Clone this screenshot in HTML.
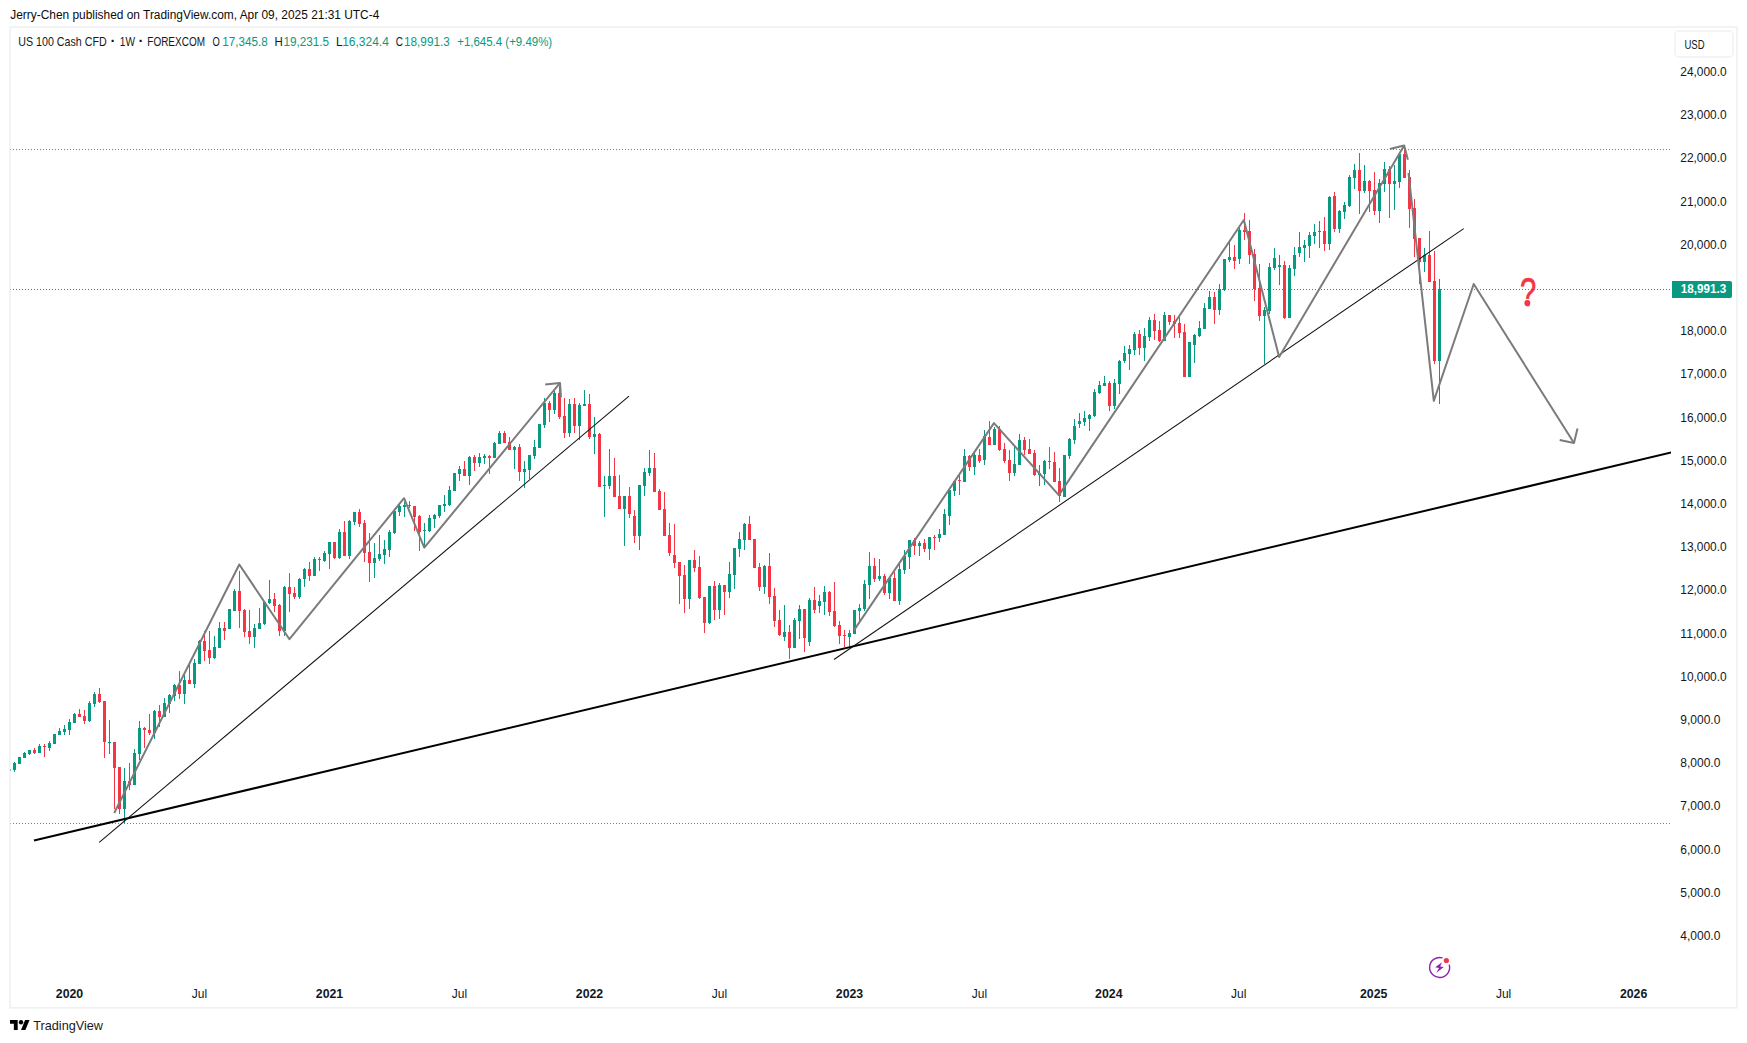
<!DOCTYPE html>
<html lang="en"><head><meta charset="utf-8"><title>US 100 Cash CFD 1W - TradingView</title>
<style>
html,body{margin:0;padding:0;background:#fff;}
body{width:1747px;height:1043px;overflow:hidden;font-family:"Liberation Sans", sans-serif;}
svg{display:block;}
text{font-family:"Liberation Sans", sans-serif;}
</style></head><body>
<svg width="1747" height="1043" viewBox="0 0 1747 1043">
<rect width="1747" height="1043" fill="#fff"/>
<defs><clipPath id="pane"><rect x="10.5" y="27" width="1660.5" height="952"/></clipPath></defs>

<rect x="10" y="27" width="1727" height="980.8" fill="none" stroke="#f1f1f2" stroke-width="1.6"/>
<text x="10.3" y="18.6" font-size="12" fill="#0c0c0c" textLength="369" lengthAdjust="spacingAndGlyphs">Jerry-Chen published on TradingView.com, Apr 09, 2025 21:31 UTC-4</text>
<text x="18.3" y="46.0" font-size="12.1" fill="#131722" textLength="88.4" lengthAdjust="spacingAndGlyphs">US 100 Cash CFD</text>
<text x="112.9" y="45.8" font-size="15" fill="#131722" font-weight="bold" text-anchor="middle">·</text>
<text x="119.8" y="46.0" font-size="12.1" fill="#131722" textLength="15.2" lengthAdjust="spacingAndGlyphs">1W</text>
<text x="140.9" y="45.8" font-size="15" fill="#131722" font-weight="bold" text-anchor="middle">·</text>
<text x="147.3" y="46.0" font-size="12.1" fill="#131722" textLength="57.7" lengthAdjust="spacingAndGlyphs">FOREXCOM</text>
<text x="212.6" y="46.0" font-size="12.1" fill="#131722" textLength="7.3" lengthAdjust="spacingAndGlyphs">O</text>
<text x="222.3" y="46.0" font-size="12.1" fill="#089981" textLength="45.4" lengthAdjust="spacingAndGlyphs">17,345.8</text>
<text x="274.6" y="46.0" font-size="12.1" fill="#131722" textLength="8.3" lengthAdjust="spacingAndGlyphs">H</text>
<text x="283.5" y="46.0" font-size="12.1" fill="#089981" textLength="45.5" lengthAdjust="spacingAndGlyphs">19,231.5</text>
<text x="336" y="46.0" font-size="12.1" fill="#131722" textLength="6.6" lengthAdjust="spacingAndGlyphs">L</text>
<text x="342.2" y="46.0" font-size="12.1" fill="#089981" textLength="46.6" lengthAdjust="spacingAndGlyphs">16,324.4</text>
<text x="395.8" y="46.0" font-size="12.1" fill="#131722" textLength="7.2" lengthAdjust="spacingAndGlyphs">C</text>
<text x="404" y="46.0" font-size="12.1" fill="#089981" textLength="45.8" lengthAdjust="spacingAndGlyphs">18,991.3</text>
<text x="457.2" y="46.0" font-size="12.1" fill="#089981" textLength="95" lengthAdjust="spacingAndGlyphs">+1,645.4 (+9.49%)</text>
<g clip-path="url(#pane)">
<line x1="10" y1="149.5" x2="1671" y2="149.5" stroke="#7d7d7d" stroke-width="1" stroke-dasharray="1 2"/>
<line x1="10" y1="823.5" x2="1671" y2="823.5" stroke="#7d7d7d" stroke-width="1" stroke-dasharray="1 2"/>
<line x1="10" y1="289.5" x2="1671" y2="289.5" stroke="#089981" stroke-width="1" stroke-dasharray="1 2"/>
<path d="M14 762h1v10h-1zM13 763h3v7h-3zM19 757h1v7h-1zM18 757h3v7h-3zM24 752h1v6h-1zM23 753h3v5h-3zM29 750h1v5h-1zM28 750h3v4h-3zM39 744h1v9h-1zM38 746h3v7h-3zM49 741h1v10h-1zM48 743h3v5h-3zM54 734h1v10h-1zM53 734h3v10h-3zM59 728h1v7h-1zM58 731h3v4h-3zM64 725h1v10h-1zM63 729h3v3h-3zM69 719h1v16h-1zM68 722h3v8h-3zM74 713h1v10h-1zM73 714h3v9h-3zM89 701h1v21h-1zM88 703h3v18h-3zM94 692h1v15h-1zM93 694h3v10h-3zM109 720h1v34h-1zM108 742h3v1h-3zM124 768h1v55h-1zM123 781h3v28h-3zM134 749h1v36h-1zM133 753h3v32h-3zM139 721h1v39h-1zM138 728h3v26h-3zM154 710h1v29h-1zM153 711h3v22h-3zM164 698h1v19h-1zM163 703h3v14h-3zM169 694h1v19h-1zM168 695h3v9h-3zM174 684h1v17h-1zM173 685h3v11h-3zM184 675h1v29h-1zM183 680h3v14h-3zM194 659h1v29h-1zM193 663h3v21h-3zM199 640h1v24h-1zM198 641h3v23h-3zM214 636h1v23h-1zM213 647h3v11h-3zM219 622h1v26h-1zM218 628h3v20h-3zM229 609h1v20h-1zM228 609h3v20h-3zM234 589h1v22h-1zM233 591h3v20h-3zM254 624h1v24h-1zM253 628h3v9h-3zM259 608h1v21h-1zM258 623h3v6h-3zM264 602h1v23h-1zM263 602h3v22h-3zM269 580h1v24h-1zM268 599h3v4h-3zM284 586h1v50h-1zM283 587h3v44h-3zM299 578h1v21h-1zM298 579h3v18h-3zM304 568h1v19h-1zM303 569h3v10h-3zM314 557h1v19h-1zM313 559h3v17h-3zM324 551h1v11h-1zM323 553h3v8h-3zM329 542h1v27h-1zM328 542h3v12h-3zM339 529h1v30h-1zM338 532h3v26h-3zM349 520h1v39h-1zM348 521h3v35h-3zM354 512h1v13h-1zM353 512h3v10h-3zM374 543h1v35h-1zM373 558h3v5h-3zM379 535h1v26h-1zM378 554h3v5h-3zM384 540h1v24h-1zM383 549h3v6h-3zM389 530h1v27h-1zM388 532h3v18h-3zM394 511h1v23h-1zM393 511h3v22h-3zM399 505h1v11h-1zM398 506h3v6h-3zM404 502h1v15h-1zM403 505h3v2h-3zM424 523h1v25h-1zM423 530h3v1h-3zM429 515h1v17h-1zM428 518h3v13h-3zM434 514h1v14h-1zM433 515h3v4h-3zM439 505h1v13h-1zM438 505h3v11h-3zM444 495h1v17h-1zM443 504h3v2h-3zM449 486h1v20h-1zM448 490h3v15h-3zM454 473h1v18h-1zM453 473h3v18h-3zM459 466h1v15h-1zM458 469h3v5h-3zM469 456h1v29h-1zM468 457h3v19h-3zM479 453h1v14h-1zM478 457h3v6h-3zM484 454h1v10h-1zM483 456h3v2h-3zM494 442h1v16h-1zM493 443h3v15h-3zM499 431h1v13h-1zM498 433h3v11h-3zM514 446h1v23h-1zM513 447h3v3h-3zM524 461h1v27h-1zM523 469h3v3h-3zM529 455h1v24h-1zM528 455h3v15h-3zM534 440h1v19h-1zM533 447h3v9h-3zM539 424h1v24h-1zM538 424h3v24h-3zM544 398h1v30h-1zM543 403h3v22h-3zM554 391h1v23h-1zM553 393h3v17h-3zM569 399h1v38h-1zM568 404h3v29h-3zM579 403h1v37h-1zM578 405h3v21h-3zM584 390h1v16h-1zM583 404h3v2h-3zM594 417h1v37h-1zM593 434h3v3h-3zM604 476h1v41h-1zM603 485h3v1h-3zM609 449h1v40h-1zM608 476h3v10h-3zM624 496h1v50h-1zM623 496h3v13h-3zM639 485h1v65h-1zM638 485h3v51h-3zM644 468h1v28h-1zM643 472h3v14h-3zM649 450h1v26h-1zM648 468h3v5h-3zM689 560h1v49h-1zM688 560h3v39h-3zM709 586h1v38h-1zM708 586h3v37h-3zM719 583h1v36h-1zM718 585h3v25h-3zM729 562h1v36h-1zM728 574h3v18h-3zM734 548h1v41h-1zM733 548h3v27h-3zM739 532h1v25h-1zM738 539h3v10h-3zM744 523h1v27h-1zM743 524h3v16h-3zM764 565h1v29h-1zM763 566h3v21h-3zM784 605h1v36h-1zM783 632h3v5h-3zM794 618h1v30h-1zM793 620h3v28h-3zM799 605h1v34h-1zM798 609h3v12h-3zM809 598h1v48h-1zM808 600h3v42h-3zM819 595h1v18h-1zM818 601h3v5h-3zM824 586h1v29h-1zM823 592h3v10h-3zM849 630h1v16h-1zM848 633h3v4h-3zM854 610h1v24h-1zM853 610h3v24h-3zM859 604h1v17h-1zM858 608h3v3h-3zM864 580h1v31h-1zM863 584h3v25h-3zM869 552h1v47h-1zM868 566h3v19h-3zM879 559h1v22h-1zM878 576h3v3h-3zM889 578h1v21h-1zM888 578h3v15h-3zM899 564h1v41h-1zM898 569h3v32h-3zM904 550h1v24h-1zM903 556h3v14h-3zM909 540h1v29h-1zM908 540h3v17h-3zM919 541h1v15h-1zM918 543h3v3h-3zM929 537h1v23h-1zM928 537h3v12h-3zM939 529h1v13h-1zM938 534h3v4h-3zM944 509h1v26h-1zM943 514h3v21h-3zM949 490h1v35h-1zM948 490h3v26h-3zM954 480h1v16h-1zM953 481h3v10h-3zM964 449h1v33h-1zM963 456h3v26h-3zM974 453h1v22h-1zM973 455h3v12h-3zM984 430h1v35h-1zM983 436h3v24h-3zM994 427h1v18h-1zM993 429h3v16h-3zM1014 447h1v29h-1zM1013 464h3v9h-3zM1019 434h1v31h-1zM1018 440h3v25h-3zM1039 465h1v21h-1zM1038 473h3v2h-3zM1044 460h1v25h-1zM1043 461h3v13h-3zM1064 455h1v42h-1zM1063 455h3v42h-3zM1069 438h1v21h-1zM1068 439h3v17h-3zM1074 419h1v25h-1zM1073 426h3v14h-3zM1079 413h1v15h-1zM1078 421h3v3h-3zM1084 411h1v15h-1zM1083 418h3v4h-3zM1089 414h1v17h-1zM1088 415h3v4h-3zM1094 389h1v28h-1zM1093 392h3v24h-3zM1099 381h1v13h-1zM1098 385h3v8h-3zM1104 376h1v10h-1zM1103 383h3v3h-3zM1114 379h1v30h-1zM1113 383h3v23h-3zM1119 360h1v34h-1zM1118 361h3v23h-3zM1124 346h1v17h-1zM1123 353h3v8h-3zM1129 345h1v25h-1zM1128 349h3v5h-3zM1134 332h1v23h-1zM1133 334h3v16h-3zM1144 328h1v33h-1zM1143 336h3v12h-3zM1149 317h1v24h-1zM1148 320h3v17h-3zM1164 312h1v29h-1zM1163 315h3v26h-3zM1189 342h1v35h-1zM1188 342h3v35h-3zM1194 334h1v29h-1zM1193 335h3v10h-3zM1199 321h1v16h-1zM1198 328h3v8h-3zM1204 303h1v26h-1zM1203 308h3v21h-3zM1209 291h1v18h-1zM1208 297h3v12h-3zM1219 284h1v31h-1zM1218 289h3v21h-3zM1224 259h1v32h-1zM1223 259h3v31h-3zM1229 242h1v20h-1zM1228 257h3v3h-3zM1239 228h1v36h-1zM1238 230h3v29h-3zM1264 307h1v57h-1zM1263 310h3v6h-3zM1269 263h1v51h-1zM1268 267h3v44h-3zM1274 248h1v22h-1zM1273 258h3v10h-3zM1279 255h1v30h-1zM1278 265h3v2h-3zM1289 265h1v53h-1zM1288 268h3v50h-3zM1294 247h1v29h-1zM1293 255h3v14h-3zM1299 232h1v25h-1zM1298 247h3v6h-3zM1304 240h1v22h-1zM1303 245h3v3h-3zM1309 232h1v26h-1zM1308 235h3v11h-3zM1314 224h1v20h-1zM1313 232h3v4h-3zM1319 221h1v27h-1zM1318 231h3v1h-3zM1329 196h1v54h-1zM1328 197h3v47h-3zM1339 210h1v23h-1zM1338 211h3v18h-3zM1344 202h1v17h-1zM1343 205h3v7h-3zM1349 175h1v32h-1zM1348 177h3v29h-3zM1354 164h1v25h-1zM1353 170h3v8h-3zM1364 165h1v28h-1zM1363 181h3v10h-3zM1379 179h1v44h-1zM1378 183h3v28h-3zM1384 162h1v30h-1zM1383 169h3v15h-3zM1394 165h1v45h-1zM1393 181h3v3h-3zM1399 153h1v35h-1zM1398 154h3v28h-3zM1424 248h1v24h-1zM1423 255h3v7h-3zM1439 279h1v125h-1zM1438 289h3v72h-3zM8 769h3v2h-3z" fill="#089981"/>
<path d="M34 748h1v6h-1zM33 750h3v3h-3zM44 744h1v13h-1zM43 746h3v1h-3zM79 709h1v8h-1zM78 714h3v3h-3zM84 710h1v14h-1zM83 716h3v5h-3zM99 688h1v15h-1zM98 694h3v8h-3zM104 701h1v57h-1zM103 701h3v41h-3zM114 742h1v67h-1zM113 742h3v26h-3zM119 767h1v47h-1zM118 767h3v42h-3zM129 763h1v27h-1zM128 781h3v4h-3zM144 727h1v21h-1zM143 728h3v2h-3zM149 714h1v21h-1zM148 730h3v3h-3zM159 705h1v22h-1zM158 711h3v6h-3zM179 671h1v28h-1zM178 685h3v9h-3zM189 665h1v19h-1zM188 680h3v4h-3zM204 631h1v30h-1zM203 641h3v10h-3zM209 631h1v33h-1zM208 650h3v8h-3zM224 622h1v18h-1zM223 628h3v3h-3zM239 571h1v57h-1zM238 591h3v20h-3zM244 609h1v28h-1zM243 610h3v22h-3zM249 610h1v34h-1zM248 631h3v6h-3zM274 593h1v19h-1zM273 599h3v7h-3zM279 604h1v32h-1zM278 605h3v26h-3zM289 573h1v39h-1zM288 587h3v7h-3zM294 587h1v12h-1zM293 593h3v4h-3zM309 562h1v19h-1zM308 569h3v7h-3zM319 557h1v14h-1zM318 559h3v1h-3zM334 542h1v17h-1zM333 542h3v16h-3zM344 521h1v35h-1zM343 532h3v24h-3zM359 509h1v18h-1zM358 512h3v12h-3zM364 520h1v42h-1zM363 523h3v30h-3zM369 533h1v49h-1zM368 552h3v11h-3zM409 501h1v7h-1zM408 505h3v1h-3zM414 506h1v25h-1zM413 506h3v11h-3zM419 515h1v36h-1zM418 516h3v16h-3zM464 461h1v15h-1zM463 469h3v7h-3zM474 455h1v16h-1zM473 457h3v6h-3zM489 455h1v19h-1zM488 456h3v2h-3zM504 431h1v12h-1zM503 433h3v10h-3zM509 437h1v13h-1zM508 442h3v8h-3zM519 444h1v37h-1zM518 447h3v25h-3zM549 401h1v21h-1zM548 403h3v7h-3zM559 386h1v33h-1zM558 393h3v24h-3zM564 398h1v40h-1zM563 416h3v17h-3zM574 398h1v35h-1zM573 404h3v22h-3zM589 394h1v45h-1zM588 404h3v33h-3zM599 433h1v54h-1zM598 434h3v53h-3zM614 458h1v39h-1zM613 476h3v21h-3zM619 475h1v34h-1zM618 496h3v13h-3zM629 487h1v31h-1zM628 496h3v18h-3zM634 510h1v33h-1zM633 516h3v20h-3zM654 453h1v39h-1zM653 468h3v24h-3zM659 489h1v21h-1zM658 491h3v19h-3zM664 492h1v44h-1zM663 509h3v27h-3zM669 523h1v33h-1zM668 535h3v18h-3zM674 524h1v44h-1zM673 555h3v8h-3zM679 562h1v42h-1zM678 562h3v14h-3zM684 565h1v48h-1zM683 575h3v24h-3zM694 550h1v22h-1zM693 560h3v8h-3zM699 556h1v43h-1zM698 567h3v31h-3zM704 597h1v36h-1zM703 597h3v26h-3zM714 581h1v39h-1zM713 586h3v24h-3zM724 585h1v30h-1zM723 585h3v7h-3zM749 516h1v24h-1zM748 524h3v16h-3zM754 539h1v29h-1zM753 539h3v29h-3zM759 563h1v28h-1zM758 567h3v20h-3zM769 553h1v51h-1zM768 566h3v31h-3zM774 588h1v39h-1zM773 596h3v25h-3zM779 610h1v26h-1zM778 620h3v15h-3zM789 625h1v34h-1zM788 632h3v16h-3zM804 609h1v43h-1zM803 609h3v29h-3zM814 587h1v26h-1zM813 600h3v10h-3zM829 591h1v25h-1zM828 592h3v20h-3zM834 582h1v45h-1zM833 611h3v15h-3zM839 621h1v23h-1zM838 625h3v11h-3zM844 630h1v17h-1zM843 635h3v1h-3zM874 558h1v24h-1zM873 566h3v13h-3zM884 574h1v21h-1zM883 576h3v17h-3zM894 572h1v29h-1zM893 578h3v23h-3zM914 538h1v17h-1zM913 540h3v6h-3zM924 539h1v13h-1zM923 543h3v6h-3zM934 535h1v15h-1zM933 537h3v1h-3zM959 475h1v20h-1zM958 480h3v1h-3zM969 455h1v16h-1zM968 456h3v11h-3zM979 449h1v14h-1zM978 455h3v6h-3zM989 421h1v24h-1zM988 437h3v8h-3zM999 426h1v25h-1zM998 429h3v21h-3zM1004 443h1v20h-1zM1003 449h3v12h-3zM1009 450h1v31h-1zM1008 460h3v13h-3zM1024 437h1v18h-1zM1023 440h3v10h-3zM1029 439h1v15h-1zM1028 449h3v5h-3zM1034 450h1v26h-1zM1033 453h3v22h-3zM1049 447h1v22h-1zM1048 461h3v1h-3zM1054 452h1v30h-1zM1053 462h3v20h-3zM1059 468h1v34h-1zM1058 481h3v15h-3zM1109 381h1v30h-1zM1108 383h3v23h-3zM1139 330h1v25h-1zM1138 334h3v14h-3zM1154 314h1v26h-1zM1153 320h3v11h-3zM1159 321h1v21h-1zM1158 330h3v11h-3zM1169 315h1v10h-1zM1168 315h3v7h-3zM1174 315h1v23h-1zM1173 321h3v3h-3zM1179 317h1v21h-1zM1178 323h3v10h-3zM1184 324h1v53h-1zM1183 332h3v45h-3zM1214 292h1v32h-1zM1213 297h3v13h-3zM1234 245h1v24h-1zM1233 257h3v4h-3zM1244 213h1v27h-1zM1243 230h3v2h-3zM1249 220h1v44h-1zM1248 231h3v24h-3zM1254 249h1v52h-1zM1253 254h3v35h-3zM1259 264h1v57h-1zM1258 288h3v28h-3zM1284 261h1v58h-1zM1283 265h3v53h-3zM1324 217h1v34h-1zM1323 231h3v13h-3zM1334 192h1v40h-1zM1333 196h3v33h-3zM1359 153h1v61h-1zM1358 170h3v21h-3zM1369 180h1v32h-1zM1368 181h3v10h-3zM1374 172h1v43h-1zM1373 190h3v21h-3zM1389 166h1v52h-1zM1388 169h3v15h-3zM1404 149h1v29h-1zM1403 154h3v24h-3zM1409 170h1v58h-1zM1408 177h3v32h-3zM1414 199h1v58h-1zM1413 208h3v31h-3zM1419 238h1v46h-1zM1418 238h3v24h-3zM1429 231h1v51h-1zM1428 255h3v27h-3zM1434 251h1v113h-1zM1433 281h3v80h-3z" fill="#F23645"/>
<line x1="34" y1="840.5" x2="1680" y2="450.4" stroke="#000" stroke-width="2" stroke-linecap="butt"/>
<line x1="99.2" y1="842.3" x2="629" y2="396.2" stroke="#111" stroke-width="1.05"/>
<line x1="834" y1="659.5" x2="1463.7" y2="228.6" stroke="#111" stroke-width="1.05"/>
<path d="M114.2 813 L239.26 564.5 L289.45 639.2 L404.05 498.19 L424.26 547.61 L560.02 382.96" fill="none" stroke="#7b7b7b" stroke-width="2" stroke-linejoin="round" stroke-linecap="butt"/>
<path d="M545.2 384.4 L560.02 382.96 L561.0 397.3" fill="none" stroke="#7b7b7b" stroke-width="2" stroke-linejoin="round" stroke-linecap="butt"/>
<path d="M853.9 630.4 L993.96 423.1 L1058.83 495.1 L1243.83 219.99 L1279.14 357.01 L1404.19 145.52" fill="none" stroke="#7b7b7b" stroke-width="2" stroke-linejoin="round" stroke-linecap="butt"/>
<path d="M1389.8 149 L1404.19 145.52 L1407.9 159.7" fill="none" stroke="#7b7b7b" stroke-width="2" stroke-linejoin="round" stroke-linecap="butt"/>
<path d="M1408.5 173 L1433.81 400.81 L1473.72 283.99 L1573.98 443.09" fill="none" stroke="#7b7b7b" stroke-width="2" stroke-linejoin="round" stroke-linecap="butt"/>
<path d="M1559.7 440.1 L1573.98 443.09 L1577.5 428.6" fill="none" stroke="#7b7b7b" stroke-width="2" stroke-linejoin="round" stroke-linecap="butt"/>
</g>
<text x="1528.2" y="306" font-size="40.5" fill="#F23645" stroke="#F23645" stroke-width="0.7" text-anchor="middle" transform="translate(1528.2 0) scale(0.72 1) translate(-1528.2 0)">?</text>
<circle cx="1527.3" cy="303.1" r="3" fill="#F23645"/>
<g fill="none" stroke="#8e24aa" stroke-width="1.4"><path d="M1442.5 957.9 A10 10 0 1 0 1449.1999999999998 964.6"/></g>
<path d="M1442.0 962.3 L1435.1999999999998 967.3 L1439.0 968.1 L1436.1999999999998 972.9 L1443.8 967.1 L1440.1999999999998 966.5z" fill="#8e24aa"/>
<circle cx="1446.3999999999999" cy="960.5" r="2.6" fill="#F23645"/>
<text x="1680.3" y="75.9" font-size="12" fill="#131722" textLength="46.4" lengthAdjust="spacingAndGlyphs">24,000.0</text>
<text x="1680.3" y="119.1" font-size="12" fill="#131722" textLength="46.4" lengthAdjust="spacingAndGlyphs">23,000.0</text>
<text x="1680.3" y="162.3" font-size="12" fill="#131722" textLength="46.4" lengthAdjust="spacingAndGlyphs">22,000.0</text>
<text x="1680.3" y="205.5" font-size="12" fill="#131722" textLength="46.4" lengthAdjust="spacingAndGlyphs">21,000.0</text>
<text x="1680.3" y="248.7" font-size="12" fill="#131722" textLength="46.4" lengthAdjust="spacingAndGlyphs">20,000.0</text>
<text x="1680.3" y="335.1" font-size="12" fill="#131722" textLength="46.4" lengthAdjust="spacingAndGlyphs">18,000.0</text>
<text x="1680.3" y="378.3" font-size="12" fill="#131722" textLength="46.4" lengthAdjust="spacingAndGlyphs">17,000.0</text>
<text x="1680.3" y="421.5" font-size="12" fill="#131722" textLength="46.4" lengthAdjust="spacingAndGlyphs">16,000.0</text>
<text x="1680.3" y="464.7" font-size="12" fill="#131722" textLength="46.4" lengthAdjust="spacingAndGlyphs">15,000.0</text>
<text x="1680.3" y="507.9" font-size="12" fill="#131722" textLength="46.4" lengthAdjust="spacingAndGlyphs">14,000.0</text>
<text x="1680.3" y="551.1" font-size="12" fill="#131722" textLength="46.4" lengthAdjust="spacingAndGlyphs">13,000.0</text>
<text x="1680.3" y="594.3" font-size="12" fill="#131722" textLength="46.4" lengthAdjust="spacingAndGlyphs">12,000.0</text>
<text x="1680.3" y="637.5" font-size="12" fill="#131722" textLength="46.4" lengthAdjust="spacingAndGlyphs">11,000.0</text>
<text x="1680.3" y="680.7" font-size="12" fill="#131722" textLength="46.4" lengthAdjust="spacingAndGlyphs">10,000.0</text>
<text x="1680.3" y="723.9" font-size="12" fill="#131722" textLength="40.1" lengthAdjust="spacingAndGlyphs">9,000.0</text>
<text x="1680.3" y="767.1" font-size="12" fill="#131722" textLength="40.1" lengthAdjust="spacingAndGlyphs">8,000.0</text>
<text x="1680.3" y="810.3" font-size="12" fill="#131722" textLength="40.1" lengthAdjust="spacingAndGlyphs">7,000.0</text>
<text x="1680.3" y="853.5" font-size="12" fill="#131722" textLength="40.1" lengthAdjust="spacingAndGlyphs">6,000.0</text>
<text x="1680.3" y="896.7" font-size="12" fill="#131722" textLength="40.1" lengthAdjust="spacingAndGlyphs">5,000.0</text>
<text x="1680.3" y="939.9" font-size="12" fill="#131722" textLength="40.1" lengthAdjust="spacingAndGlyphs">4,000.0</text>
<path d="M1672 281h58a2 2 0 0 1 2 2v13a2 2 0 0 1 -2 2h-58z" fill="#089981"/>
<text x="1680.8" y="292.8" font-size="12" fill="#fff" font-weight="bold" textLength="45.4" lengthAdjust="spacingAndGlyphs">18,991.3</text>
<rect x="1675" y="31" width="58" height="26" rx="4" ry="4" fill="#fff" stroke="#f1f1f3" stroke-width="1.4"/>
<text x="1684.5" y="48.6" font-size="12" fill="#131722" textLength="20.1" lengthAdjust="spacingAndGlyphs">USD</text>
<text x="69.5" y="998" font-size="12" fill="#131722" font-weight="bold" text-anchor="middle" textLength="27.4" lengthAdjust="spacingAndGlyphs">2020</text>
<text x="199.5" y="998" font-size="12" fill="#131722" text-anchor="middle" textLength="15.3" lengthAdjust="spacingAndGlyphs">Jul</text>
<text x="329.5" y="998" font-size="12" fill="#131722" font-weight="bold" text-anchor="middle" textLength="27.4" lengthAdjust="spacingAndGlyphs">2021</text>
<text x="459.5" y="998" font-size="12" fill="#131722" text-anchor="middle" textLength="15.3" lengthAdjust="spacingAndGlyphs">Jul</text>
<text x="589.5" y="998" font-size="12" fill="#131722" font-weight="bold" text-anchor="middle" textLength="27.4" lengthAdjust="spacingAndGlyphs">2022</text>
<text x="719.5" y="998" font-size="12" fill="#131722" text-anchor="middle" textLength="15.3" lengthAdjust="spacingAndGlyphs">Jul</text>
<text x="849.5" y="998" font-size="12" fill="#131722" font-weight="bold" text-anchor="middle" textLength="27.4" lengthAdjust="spacingAndGlyphs">2023</text>
<text x="979.5" y="998" font-size="12" fill="#131722" text-anchor="middle" textLength="15.3" lengthAdjust="spacingAndGlyphs">Jul</text>
<text x="1108.8" y="998" font-size="12" fill="#131722" font-weight="bold" text-anchor="middle" textLength="27.4" lengthAdjust="spacingAndGlyphs">2024</text>
<text x="1238.7" y="998" font-size="12" fill="#131722" text-anchor="middle" textLength="15.3" lengthAdjust="spacingAndGlyphs">Jul</text>
<text x="1373.7" y="998" font-size="12" fill="#131722" font-weight="bold" text-anchor="middle" textLength="27.4" lengthAdjust="spacingAndGlyphs">2025</text>
<text x="1503.6" y="998" font-size="12" fill="#131722" text-anchor="middle" textLength="15.3" lengthAdjust="spacingAndGlyphs">Jul</text>
<text x="1633.6" y="998" font-size="12" fill="#131722" font-weight="bold" text-anchor="middle" textLength="27.4" lengthAdjust="spacingAndGlyphs">2026</text>
<g transform="translate(10 1017.8) scale(0.55)" fill="#000"><path d="M14 22H7V11H0V4h14v18z"/><circle cx="20" cy="8" r="4"/><path d="M28 22h-8l7.5-18h8L28 22z"/></g>
<text x="33.3" y="1030" font-size="13" fill="#1a1a1a" textLength="69.7" lengthAdjust="spacingAndGlyphs">TradingView</text>
</svg></body></html>
